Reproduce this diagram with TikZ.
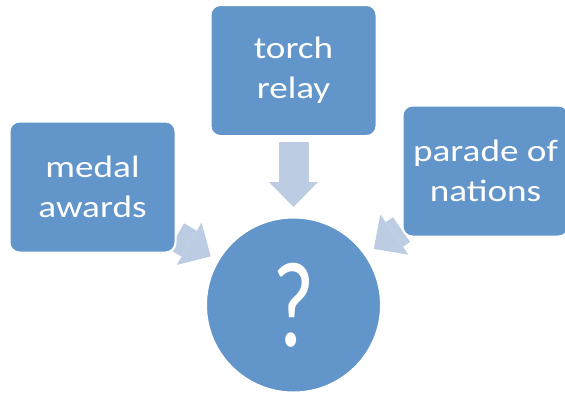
\documentclass[tikz,border=0pt]{standalone}
\usepackage{xcolor}
\definecolor{boxblue}{RGB}{98,149,201}
\definecolor{arrowblue}{RGB}{187,204,227}
\usepackage{fontspec}
\setmainfont{Carlito}
\newfontfamily\widefont[FakeStretch=1.2]{Carlito}
\newfontfamily\narrowfont[FakeStretch=0.75]{Carlito}
\usepackage{tikz}
\usetikzlibrary{arrows.meta}
\usetikzlibrary{backgrounds}

\begin{document}
\begin{tikzpicture}[x=1pt,y=-1pt,
  topic/.style={shape=rectangle,rounded corners=10pt,draw=white,line width=2pt,fill=boxblue,text=white,
    minimum width=166pt,minimum height=131pt,align=center,font=\widefont\fontsize{31}{40}\selectfont},
  goal/.style={shape=circle,draw=white,line width=2pt,fill=boxblue,text=white,minimum size=175pt,
    font=\narrowfont\fontsize{122}{122}\selectfont},
  feed/.style={draw=arrowblue,line width=30pt,-{Triangle[length=25pt,width=49pt,line width=0pt,fill=arrowblue]}}]
\useasboundingbox (0,0) rectangle (565,392);
\node (torch) at (293.5,70.5) [topic]{torch\\relay};
\node (medal) at (92.5,187) [topic]{medal\\awards};
\node (parade) at (485.5,171) [topic]{parade of\\nations};
\node (hub) at (293.5,305) [goal]{?};
\coordinate (aim) at (293.5,305);
\begin{pgfonlayer}{background}
\draw[feed,shorten <=5pt,shorten >=98pt] (torch) -- (aim);
\draw[feed,shorten >=96pt] (medal) -- (aim);
\draw[feed,shorten >=98pt] (parade) -- (aim);
\end{pgfonlayer}
\end{tikzpicture}
\end{document}
